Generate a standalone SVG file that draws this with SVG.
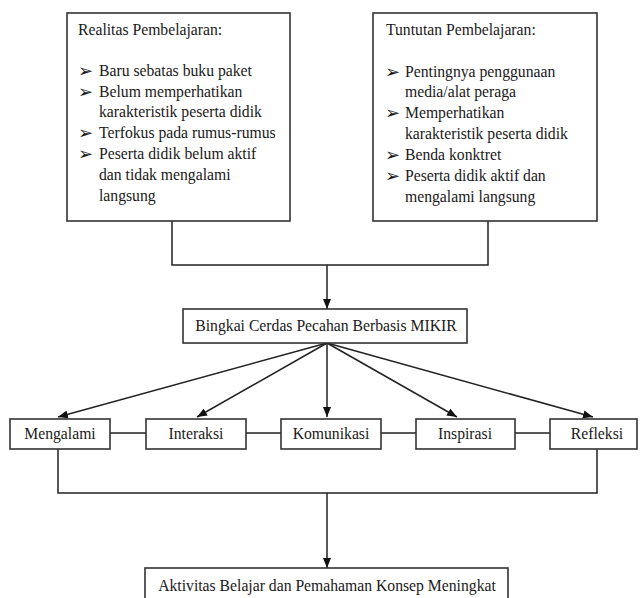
<svg xmlns="http://www.w3.org/2000/svg" width="640" height="598" viewBox="0 0 640 598">
<style>
.box{fill:#fff;stroke:#333;stroke-width:1.6}
.t{font-family:"Liberation Serif","Times New Roman",serif;font-size:15.7px;fill:#1a1a1a}
.c{text-anchor:middle}
.b{font-family:"DejaVu Sans",sans-serif;font-size:18px;fill:#1a1a1a}
.ln{fill:none;stroke:#222;stroke-width:1.5}
</style>
<defs>
<marker id="ah" viewBox="0 0 10 8" refX="10" refY="4" markerWidth="10" markerHeight="8" markerUnits="userSpaceOnUse" orient="auto">
<path d="M0,0 L10,4 L0,8 z" fill="#111"/>
</marker>
</defs>
<rect width="640" height="598" fill="#fff"/>
<g id="connectors">
<path class="ln" d="M172,221 V265 H488 V221"/>
<path class="ln" d="M327,265 V309" marker-end="url(#ah)"/>
<path class="ln" d="M327,343 L58,417" marker-end="url(#ah)"/>
<path class="ln" d="M327,343 L197,417" marker-end="url(#ah)"/>
<path class="ln" d="M327,343 L327,417" marker-end="url(#ah)"/>
<path class="ln" d="M327,343 L457,417" marker-end="url(#ah)"/>
<path class="ln" d="M327,343 L593,417" marker-end="url(#ah)"/>
<path class="ln" d="M110,433 H146 M246,433 H281 M381,433 H416 M515,433 H550"/>
<path class="ln" d="M58,449 V493 H597 V449"/>
<path class="ln" d="M327,493 V568" marker-end="url(#ah)"/>
</g>
<g id="realitas">
<rect class="box" x="67" y="13" width="223" height="208"/>
<text class="t" x="78" y="35">Realitas Pembelajaran:</text>
<text class="b" x="78" y="77">➢</text><text class="t" x="99" y="76">Baru sebatas buku paket</text>
<text class="b" x="78" y="98">➢</text><text class="t" x="99" y="97">Belum memperhatikan</text>
<text class="t" x="99" y="117">karakteristik peserta didik</text>
<text class="b" x="78" y="139">➢</text><text class="t" x="99" y="138">Terfokus pada rumus-rumus</text>
<text class="b" x="78" y="160">➢</text><text class="t" x="99" y="159">Peserta didik belum aktif</text>
<text class="t" x="99" y="180">dan tidak mengalami</text>
<text class="t" x="99" y="201">langsung</text>
</g>
<g id="tuntutan">
<rect class="box" x="373" y="13" width="224" height="208"/>
<text class="t" x="386" y="35">Tuntutan Pembelajaran:</text>
<text class="b" x="385" y="78">➢</text><text class="t" x="405" y="77">Pentingnya penggunaan</text>
<text class="t" x="405" y="97">media/alat peraga</text>
<text class="b" x="385" y="119">➢</text><text class="t" x="405" y="118">Memperhatikan</text>
<text class="t" x="405" y="139">karakteristik peserta didik</text>
<text class="b" x="385" y="161">➢</text><text class="t" x="405" y="160">Benda konktret</text>
<text class="b" x="385" y="182">➢</text><text class="t" x="405" y="181">Peserta didik aktif dan</text>
<text class="t" x="405" y="202">mengalami langsung</text>
</g>
<g id="mikir">
<rect class="box" x="183" y="309" width="284" height="34"/>
<text class="t c" x="326" y="331">Bingkai Cerdas Pecahan Berbasis MIKIR</text>
</g>
<g id="mengalami">
<rect class="box" x="10" y="419" width="100" height="30"/>
<text class="t c" x="60" y="439">Mengalami</text>
</g>
<g id="interaksi">
<rect class="box" x="146" y="419" width="100" height="30"/>
<text class="t c" x="196" y="439">Interaksi</text>
</g>
<g id="komunikasi">
<rect class="box" x="281" y="419" width="100" height="30"/>
<text class="t c" x="331" y="439">Komunikasi</text>
</g>
<g id="inspirasi">
<rect class="box" x="416" y="419" width="99" height="30"/>
<text class="t c" x="465" y="439">Inspirasi</text>
</g>
<g id="refleksi">
<rect class="box" x="550" y="419" width="87" height="30"/>
<text class="t c" x="597" y="439">Refleksi</text>
</g>
<g id="aktivitas">
<rect class="box" x="145" y="568" width="363" height="40"/>
<text class="t c" x="327" y="591">Aktivitas Belajar dan Pemahaman Konsep Meningkat</text>
</g>
</svg>
